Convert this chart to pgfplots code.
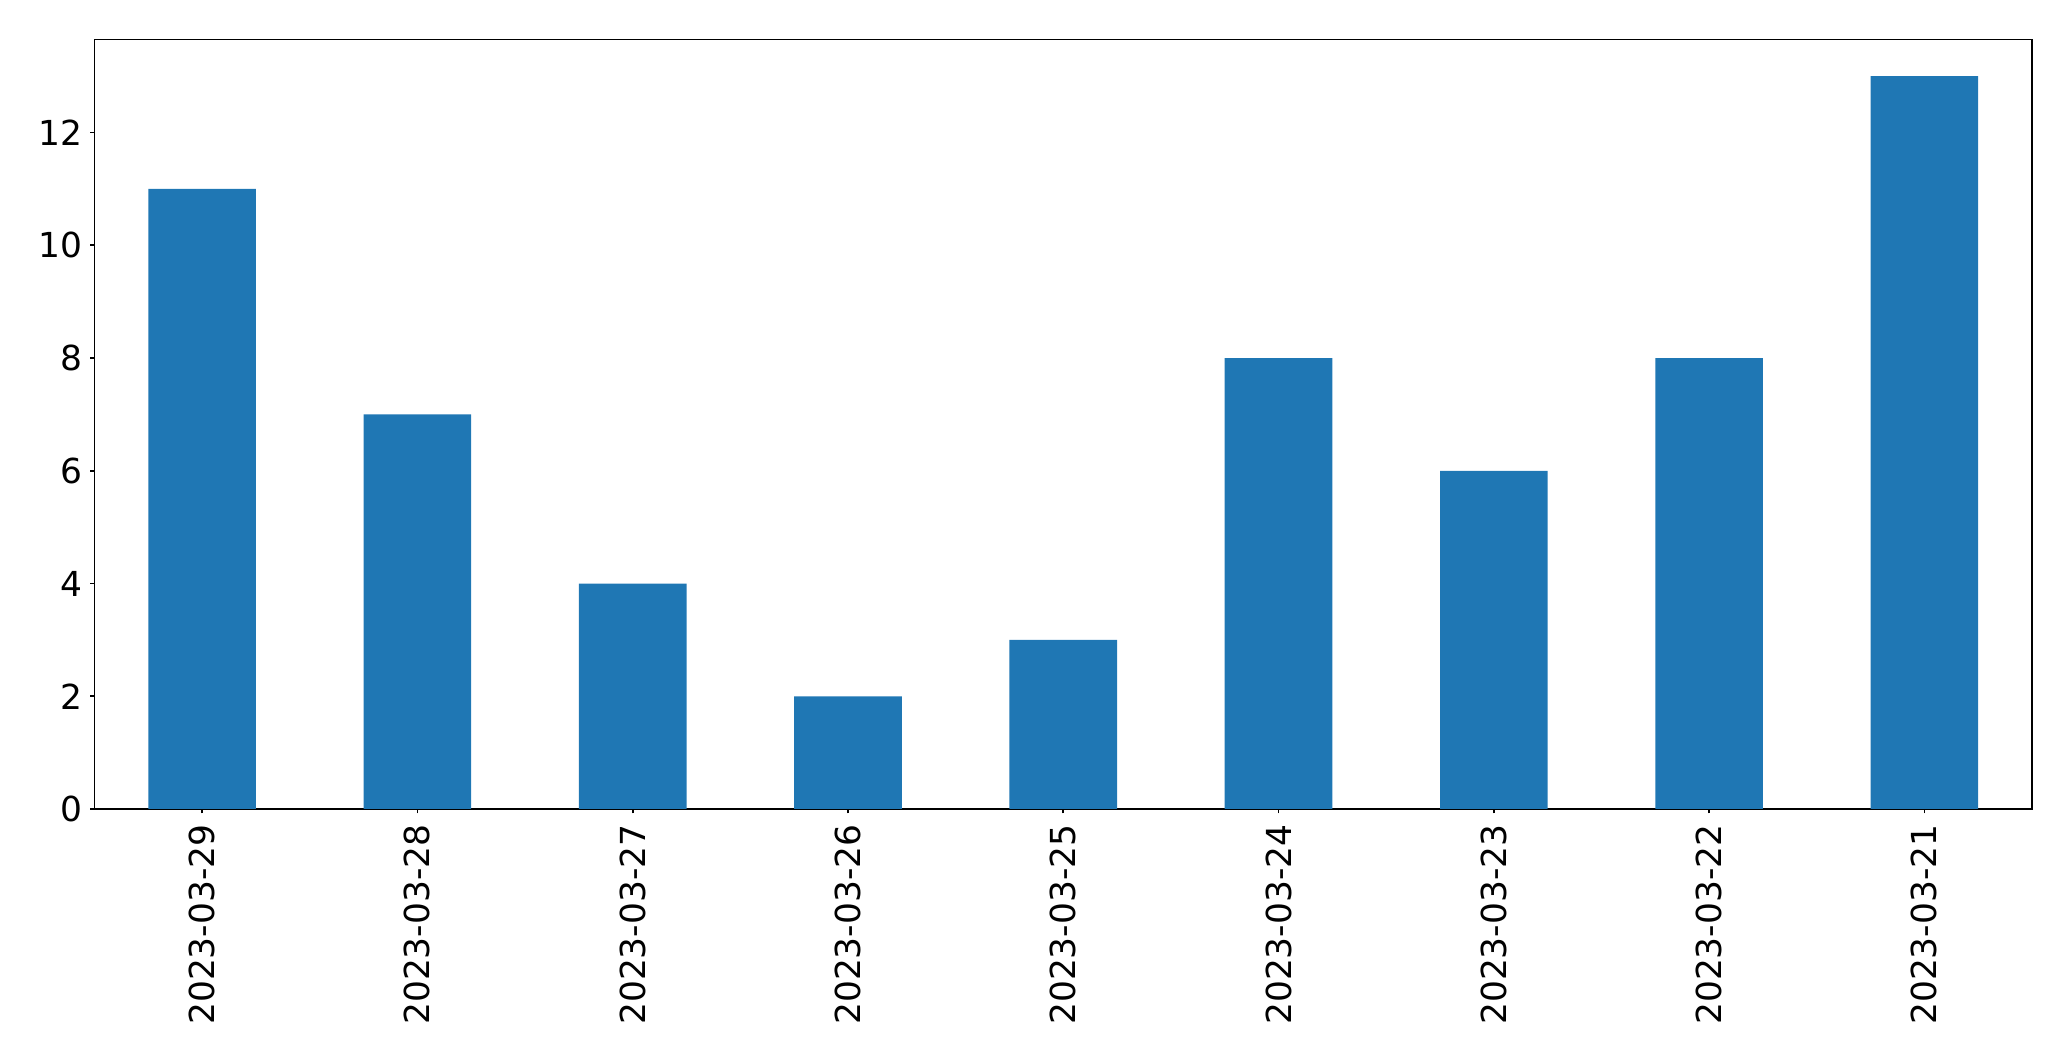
\documentclass[border=0pt]{standalone}
\usepackage{fontspec}
\setmainfont{DejaVu Sans}
\usepackage{pgfplots}
\pgfplotsset{compat=1.18}
\definecolor{barblue}{HTML}{1F77B4}

\begin{document}
\begin{tikzpicture}
  \begin{axis}[
      scale only axis,
      width=697.5pt, height=277.0pt,
      xmin=-0.5, xmax=8.5,
      ymin=0, ymax=13.65,
      xtick={0,...,8},
      xticklabels={2023-03-29,2023-03-28,2023-03-27,2023-03-26,2023-03-25,2023-03-24,2023-03-23,2023-03-22,2023-03-21},
      ytick={0,2,...,12},
      xtick pos=bottom, ytick pos=left,
      tick align=outside,
      major tick length=1.6pt,
      axis line style={line width=0.6pt},
      every tick/.style={black, line width=0.6pt},
      tick label style={font=\fontsize{12.4}{14}\selectfont},
      xticklabel style={rotate=90, anchor=east, inner sep=3.8pt},
      yticklabel style={inner sep=2.5pt},
      /pgf/number format/assume math mode=true,
    ]
    \addplot[ybar, bar width=0.5, fill=barblue, draw=none] coordinates {
      (0,11) (1,7) (2,4) (3,2) (4,3) (5,8) (6,6) (7,8) (8,13)
    };
    \coordinate (o) at (rel axis cs:0,0);
  \end{axis}
  \pgfresetboundingbox
  \path[use as bounding box] ([xshift=-34.02pt, yshift=-90.72pt]o) rectangle ++(745.56pt,381.96pt);
\end{tikzpicture}
\end{document}
